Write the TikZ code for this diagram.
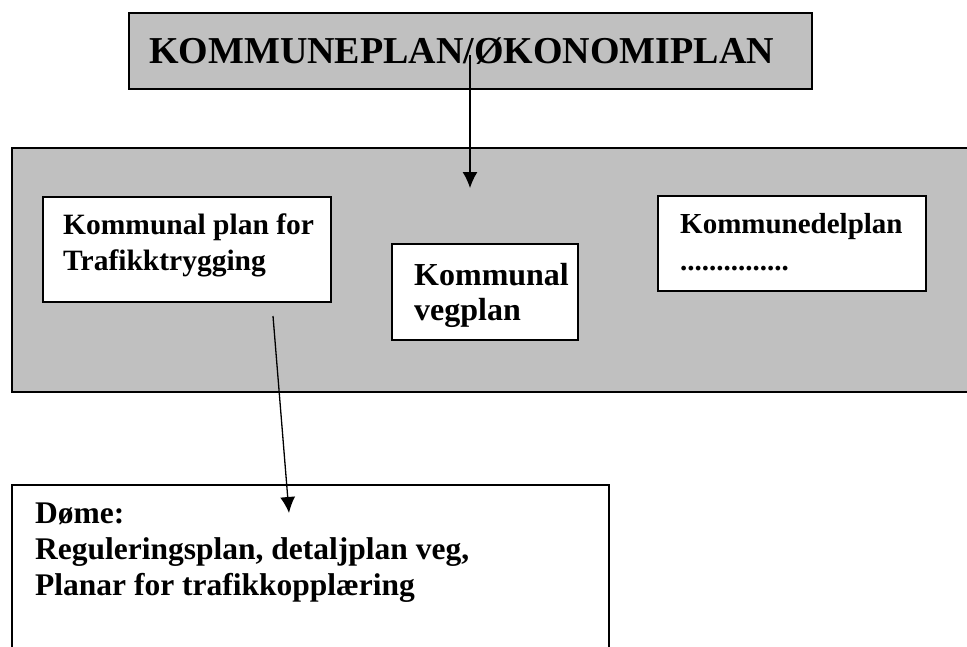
\documentclass[tikz,border=0pt]{standalone}
\usepackage{fontspec}
\setmainfont{Liberation Serif}
\usetikzlibrary{arrows.meta}
\definecolor{panelgrey}{RGB}{192,192,192}
\begin{document}
\begin{tikzpicture}[x=1pt,y=-1pt,
  box/.style={draw=black, line width=1.8pt, inner sep=0pt, outer sep=0pt, anchor=north west},
  greybox/.style={box, fill=panelgrey},
  whitebox/.style={box, fill=white},
  lbl/.style={anchor=base west, inner sep=0pt, font=\bfseries},
  conn/.style={line width=1.3pt, -{Latex[length=16pt,width=15pt]}}]
\useasboundingbox (0,0) rectangle (967,646);
\clip (0,0) rectangle (967,646);
% top box
\node[greybox, minimum width=683pt, minimum height=76pt] (top) at (129,13) {};
\node[lbl, font=\bfseries\fontsize{38}{44}\selectfont] (toptxt) at (149,63) {KOMMUNEPLAN/ØKONOMIPLAN};
% big panel
\node[greybox, minimum width=980pt, minimum height=244pt] (panel) at (12,148) {};
% box 1
\node[whitebox, minimum width=288pt, minimum height=105pt] (b1) at (43,197) {};
\node[lbl, font=\bfseries\fontsize{29.5}{36}\selectfont] (b1a) at (63,234) {Kommunal plan for};
\node[lbl, font=\bfseries\fontsize{29.5}{36}\selectfont] (b1b) at (63,270) {Trafikktrygging};
% box 2
\node[whitebox, minimum width=186pt, minimum height=96pt] (b2) at (392,244) {};
\node[lbl, font=\bfseries\fontsize{32}{36}\selectfont] (b2a) at (414,285) {Kommunal};
\node[lbl, font=\bfseries\fontsize{32}{36}\selectfont] (b2b) at (414,320) {vegplan};
% box 3
\node[whitebox, minimum width=268pt, minimum height=95pt] (b3) at (658,196) {};
\node[lbl, font=\bfseries\fontsize{29}{36}\selectfont] (b3a) at (680,233) {Kommunedelplan};
\node[lbl, font=\bfseries\fontsize{29}{36}\selectfont] (b3b) at (680,270) {...............};
% bottom box
\node[whitebox, minimum width=597pt, minimum height=200pt] (b4) at (12,485) {};
\node[lbl, font=\bfseries\fontsize{31.5}{36}\selectfont] (b4a) at (35,523) {Døme:};
\node[lbl, font=\bfseries\fontsize{31.5}{36}\selectfont] (b4b) at (35,559) {Reguleringsplan, detaljplan veg,};
\node[lbl, font=\bfseries\fontsize{31.5}{36}\selectfont] (b4c) at (35,595) {Planar for trafikkopplæring};
% connectors
\coordinate (s1) at (470,55);
\coordinate (e1) at (470,188);
\coordinate (s2) at (273,316);
\coordinate (e2) at (289,513);
\draw[conn] (s1) -- (e1);
\draw[conn] (s2) -- (e2);
\end{tikzpicture}
\end{document}
